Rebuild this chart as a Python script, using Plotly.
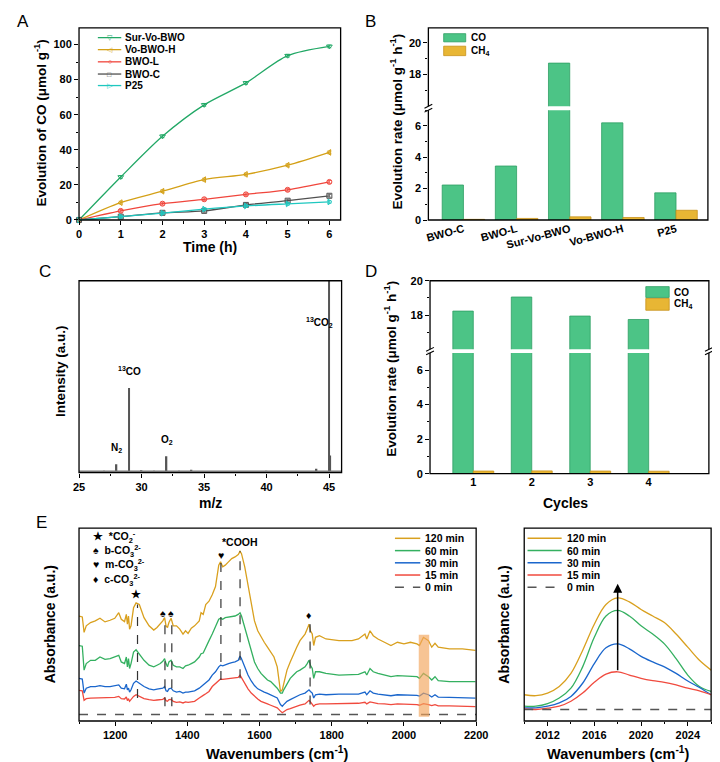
import plotly.graph_objects as go

W, H = 720, 762
FONT = "Liberation Sans"


def px(x):
    return x / W


def py(y):
    return 1 - y / H


# ---------------- Panel A data ----------------
time_h = [0, 1, 2, 3, 4, 5, 6]
co_sur_vo_bwo = [0, 24.5, 47.7, 65.6, 78.1, 93.6, 98.9]
co_vo_bwo_h = [0, 9.9, 16.4, 23.0, 26.0, 31.2, 38.5]
co_bwo_l = [0, 5.2, 9.3, 11.8, 14.6, 17.2, 21.7]
co_bwo_c = [0, 1.9, 4.1, 5.2, 8.6, 11.0, 13.8]
co_p25 = [0, 1.9, 3.9, 6.2, 8.0, 9.2, 10.3]
co_err = [0, 0.8, 0.8, 0.8, 0.8, 0.8, 0.8]
series_names_A = ["Sur-Vo-BWO", "Vo-BWO-H", "BWO-L", "BWO-C", "P25"]

# ---------------- Panel B data ----------------
catalysts = ["BWO-C", "BWO-L", "Sur-Vo-BWO", "Vo-BWO-H", "P25"]
rate_co = [2.23, 3.44, 18.72, 6.19, 1.73]
rate_ch4 = [0.04, 0.10, 0.20, 0.16, 0.62]

# ---------------- Panel C data ----------------
mz = [27, 28, 29, 30, 31, 32, 33, 34, 40, 44, 45, 45.1]
intensity = [0.01, 0.044, 0.441, 0.012, 0.008, 0.085, 0.01, 0.015, 0.008, 0.02, 1.05, 0.09]
mz_baseline = [25, 46]
baseline_level = [0.006, 0.006]
peak_labels_C = ["N<sub>2</sub>", "<sup>13</sup>CO", "O<sub>2</sub>", "<sup>13</sup>CO<sub>2</sub>"]
peak_mz_C = [28, 29, 32, 44.2]
peak_lab_y_C = [0.085, 0.49, 0.13, 0.74]

# ---------------- Panel D data ----------------
cycles = [1, 2, 3, 4]
cyc_co = [18.23, 19.05, 17.94, 17.74]
cyc_ch4 = [0.15, 0.16, 0.15, 0.14]

# ---------------- Panel E data (left) ----------------
wn_e = [1100, 1109, 1114, 1120, 1132, 1145, 1158, 1172, 1186, 1199,
        1210, 1217, 1226, 1231, 1234, 1237, 1240, 1244, 1251, 1258,
        1267, 1280, 1294, 1307, 1316, 1325, 1332, 1337, 1341, 1345,
        1349, 1355, 1361, 1370, 1379, 1388, 1395, 1402, 1411, 1420,
        1433, 1438, 1444, 1451, 1460, 1469, 1478, 1487, 1492, 1498,
        1505, 1514, 1523, 1532, 1541, 1546, 1550, 1559, 1568, 1577,
        1586, 1595, 1604, 1613, 1622, 1631, 1640, 1649, 1658, 1663,
        1667, 1676, 1685, 1694, 1703, 1712, 1726, 1732, 1737, 1741,
        1746, 1750, 1755, 1766, 1784, 1820, 1856, 1874, 1892, 1897,
        1906, 1915, 1928, 1946, 1964, 1982, 2000, 2018, 2036, 2043,
        2054, 2068, 2077, 2086, 2095, 2126, 2162, 2198]
abs_120 = [320, 317, 270, 290, 300, 305, 313, 302, 307, 313,
           330, 310, 303, 325, 295, 320, 280, 290, 345, 360,
           355, 315, 290, 277, 285, 295, 305, 315, 290, 285,
           300, 313, 290, 290, 280, 265, 275, 267, 283, 290,
           305, 330, 325, 355, 365, 385, 410, 475, 485, 470,
           475, 485, 495, 500, 507, 517, 510, 470, 415, 355,
           305, 275, 255, 240, 225, 210, 195, 165, 90, 95,
           115, 155, 180, 205, 225, 245, 265, 280, 295, 275,
           265, 230, 255, 260, 250, 245, 245, 250, 265, 250,
           275, 260, 250, 240, 230, 240, 235, 240, 235, 230,
           255, 245, 225, 237, 225, 220, 220, 215]
abs_60 = [230, 228, 155, 175, 185, 185, 195, 188, 190, 195,
          200, 180, 175, 195, 165, 190, 160, 175, 210, 217,
          205, 185, 170, 165, 170, 175, 182, 190, 175, 165,
          180, 185, 170, 165, 165, 160, 168, 170, 175, 180,
          195, 205, 207, 225, 245, 265, 290, 310, 313, 310,
          315, 317, 320, 320, 325, 330, 320, 285, 245, 210,
          180, 160, 145, 135, 125, 120, 110, 100, 85, 85,
          95, 115, 130, 140, 150, 155, 165, 175, 185, 170,
          160, 130, 150, 150, 145, 140, 140, 142, 150, 140,
          160, 150, 145, 140, 135, 138, 137, 138, 135, 130,
          145, 135, 125, 135, 123, 120, 120, 120]
abs_30 = [130, 128, 85, 100, 105, 105, 108, 105, 105, 107,
          110, 100, 98, 112, 95, 100, 88, 95, 115, 122,
          115, 105, 98, 95, 97, 98, 100, 105, 92, 90,
          98, 100, 92, 88, 90, 85, 88, 88, 90, 92,
          100, 105, 108, 115, 125, 140, 150, 165, 170, 168,
          172, 175, 178, 180, 185, 198, 190, 162, 140, 122,
          108, 98, 92, 88, 84, 80, 75, 70, 50, 45,
          50, 60, 65, 70, 75, 80, 85, 90, 95, 90,
          85, 70, 80, 82, 80, 82, 82, 82, 88, 80,
          92, 85, 82, 80, 77, 80, 80, 80, 78, 76,
          85, 80, 73, 80, 73, 72, 70, 70]
abs_15 = [93, 92, 63, 68, 70, 70, 72, 70, 70, 72,
          75, 68, 67, 73, 62, 68, 60, 65, 75, 80,
          75, 68, 65, 63, 64, 65, 66, 70, 62, 60,
          65, 66, 60, 57, 58, 55, 58, 57, 58, 60,
          70, 75, 78, 83, 90, 105, 115, 125, 128, 127,
          128, 129, 130, 130, 133, 140, 132, 115, 98, 85,
          75, 67, 60, 55, 52, 48, 45, 40, 30, 25,
          28, 35, 38, 42, 45, 48, 52, 57, 63, 58,
          52, 45, 50, 52, 52, 53, 53, 54, 57, 52,
          58, 55, 53, 52, 50, 52, 52, 52, 50, 48,
          53, 50, 47, 50, 46, 46, 45, 44]
wn_zero = [1100, 2200]
abs_zero = [20, 20]

# peak assignments (E left)
assign_wn = [1262, 1338, 1357, 1493, 1546, 1740]
assign_top = [355, 315, 313, 485, 517, 295]
assign_bottom = [70, 45, 45, 125, 130, 50]
assign_sym_wn = [1259, 1333, 1354, 1492, 1546, 1738]
assign_sym_y = [387, 330, 330, 507, 547, 323]
assign_sym = ["★", "♠", "♠", "♥", "*COOH", "♦"]
key_labels_E = ["★  *CO<sub>2</sub><sup>-</sup>", "♠  b-CO<sub>3</sub><sup>2-</sup>",
                "♥  m-CO<sub>3</sub><sup>2-</sup>", "♦  c-CO<sub>3</sub><sup>2-</sup>"]
band_wn = [2041, 2070]
band_abs = [13, 263]

# ---------------- Panel E data (right, zoom) ----------------
wn_z = [2010, 2011, 2012, 2013, 2014, 2015, 2016, 2017, 2018,
        2019, 2020, 2021, 2022, 2023, 2024, 2025, 2026]
z_120 = [80, 77, 85, 105, 145, 215, 295, 355, 375, 363, 340, 320, 300, 265, 225, 185, 155]
z_60 = [45, 45, 53, 70, 100, 165, 255, 320, 337, 320, 290, 265, 235, 190, 140, 105, 90]
z_30 = [40, 40, 45, 55, 75, 115, 175, 223, 235, 220, 197, 180, 165, 145, 122, 102, 80]
z_15 = [37, 35, 39, 45, 60, 85, 118, 143, 150, 140, 130, 123, 118, 110, 100, 92, 80]
wn_z_zero = [2010, 2026]
z_zero = [35, 35]
time_labels = ["120 min", "60 min", "30 min", "15 min", "0 min"]

# ---------------- styles ----------------
colA = ['#22a866', '#d4a017', '#f0463c', '#505050', '#1fc8c0']
symA = ['triangle-down-open', 'triangle-left-open', 'circle-open', 'square-open', 'triangle-right-open']
uniA = ['▽', '◁', '○', '□', '▷']
CO_COL, CO_EDGE = '#4cc486', '#2f9e63'
CH4_COL, CH4_EDGE = '#e8b634', '#c8921a'
colE = ['#d9a01e', '#34b060', '#1a66cc', '#f04a3e', '#555555']

fig = go.Figure()

# ---- A ----
for name, vals, c, s in zip(series_names_A, [co_sur_vo_bwo, co_vo_bwo_h, co_bwo_l, co_bwo_c, co_p25], colA, symA):
    fig.add_trace(go.Scatter(
        x=time_h, y=vals, name=name, mode='lines+markers',
        line=dict(color=c, width=1.3, shape='spline', smoothing=0.8),
        marker=dict(symbol=s, size=5, color=c, line=dict(width=1, color=c)),
        error_y=dict(type='data', array=co_err, color=c, thickness=0.8, width=2),
        xaxis='x', yaxis='y', showlegend=False, cliponaxis=False))

# ---- B ----
for xa, ya in [('x2', 'y2'), ('x3', 'y3')]:
    fig.add_trace(go.Bar(x=catalysts, y=rate_co, width=0.4, offset=-0.4, name='CO',
                         marker=dict(color=CO_COL, line=dict(color=CO_EDGE, width=0.8)),
                         xaxis=xa, yaxis=ya, showlegend=False))
    fig.add_trace(go.Bar(x=catalysts, y=rate_ch4, width=0.4, offset=0, name='CH4',
                         marker=dict(color=CH4_COL, line=dict(color=CH4_EDGE, width=0.8)),
                         xaxis=xa, yaxis=ya, showlegend=False))

# ---- C ----
fig.add_trace(go.Scatter(x=mz_baseline, y=baseline_level, mode='lines',
                         line=dict(color='#777', width=2), xaxis='x4', yaxis='y4', showlegend=False))
fig.add_trace(go.Bar(x=mz, y=intensity, width=0.12, marker=dict(color='#555', line=dict(width=0)),
                     xaxis='x4', yaxis='y4', showlegend=False))

# ---- D ----
for xa, ya in [('x5', 'y5'), ('x6', 'y6')]:
    fig.add_trace(go.Bar(x=cycles, y=cyc_co, width=0.35, offset=-0.35, name='CO',
                         marker=dict(color=CO_COL, line=dict(color=CO_EDGE, width=0.8)),
                         xaxis=xa, yaxis=ya, showlegend=False))
    fig.add_trace(go.Bar(x=cycles, y=cyc_ch4, width=0.35, offset=0, name='CH4',
                         marker=dict(color=CH4_COL, line=dict(color=CH4_EDGE, width=0.8)),
                         xaxis=xa, yaxis=ya, showlegend=False))

# ---- E left ----
for lab, vals, c in zip(time_labels[:4], [abs_120, abs_60, abs_30, abs_15], colE):
    fig.add_trace(go.Scatter(x=wn_e, y=vals, name=lab, mode='lines', line=dict(color=c, width=1.3),
                             xaxis='x7', yaxis='y7', showlegend=False))
fig.add_trace(go.Scatter(x=wn_zero, y=abs_zero, name='0 min', mode='lines',
                         line=dict(color=colE[4], width=1.5, dash='dash'),
                         xaxis='x7', yaxis='y7', showlegend=False))

# ---- E right ----
for lab, vals, c in zip(time_labels[:4], [z_120, z_60, z_30, z_15], colE):
    fig.add_trace(go.Scatter(x=wn_z, y=vals, name=lab, mode='lines',
                             line=dict(color=c, width=1.3, shape='spline'),
                             xaxis='x8', yaxis='y8', showlegend=False))
fig.add_trace(go.Scatter(x=wn_z_zero, y=z_zero, name='0 min', mode='lines',
                         line=dict(color=colE[4], width=1.5, dash='dash'),
                         xaxis='x8', yaxis='y8', showlegend=False))

# ---------------- axes ----------------
TF = dict(family=FONT, size=11, color='black', weight='bold')


def axis(domain, rng, anchor, **kw):
    d = dict(domain=domain, range=rng, anchor=anchor, showline=False, zeroline=False,
             showgrid=False, ticks='outside', ticklen=4, tickwidth=1.2, tickcolor='black',
             tickfont=TF)
    d.update(kw)
    return d


def minor(**kw):
    d = dict(ticks='outside', ticklen=2.5, tickwidth=1, tickcolor='black')
    d.update(kw)
    return d


A_X = [px(66.7), px(335)]
B_X = [px(425), px(711.7)]
C_X = [px(66.7), px(336)]
D_X = [px(426.7), px(712.7)]
EL_X = [px(66.7), px(474)]
ER_X = [px(523.3), px(715)]
E_Y = [py(718.3), py(522.3)]

fig.update_layout(
    xaxis=axis(A_X, [0, 6.27], 'y', tick0=0, dtick=1, minor=minor(dtick=0.5)),
    yaxis=axis([py(209.3), py(14)], [0, 109.5], 'x', tick0=0, dtick=20, minor=minor(dtick=10)),
    xaxis2=axis(B_X, [-0.66, 4.6], 'y2', type='category', ticks='', tickangle=-15),
    yaxis2=axis([py(209.3), py(97.7)], [0, 7], 'x2', tick0=0, dtick=2, minor=minor(dtick=1)),
    xaxis3=axis(B_X, [-0.66, 4.6], 'y3', type='category', ticks='', showticklabels=False),
    yaxis3=axis([py(93.7), py(14)], [16, 20.95], 'x3', tickmode='array', tickvals=[18, 20],
                minor=minor(tickmode='array', tickvals=[17, 19])),
    xaxis4=axis(C_X, [25, 46], 'y4', tick0=25, dtick=5, minor=minor(dtick=2.5)),
    yaxis4=axis([py(466), py(271)], [0, 1], 'x4', ticks='', showticklabels=False),
    xaxis5=axis(D_X, [0.26, 5.03], 'y5', tickmode='array', tickvals=cycles, ticks=''),
    yaxis5=axis([py(467), py(344.3)], [0, 7], 'x5', tick0=0, dtick=2, minor=minor(dtick=1)),
    xaxis6=axis(D_X, [0.26, 5.03], 'y6', ticks='', showticklabels=False),
    yaxis6=axis([py(340.7), py(271)], [16, 20], 'x6', tickmode='array', tickvals=[18, 20],
                minor=minor(tickmode='array', tickvals=[17, 19])),
    xaxis7=axis(EL_X, [1100, 2200], 'y7', tick0=1200, dtick=200, minor=minor(dtick=100)),
    yaxis7=axis(E_Y, [0, 588], 'x7', ticks='', showticklabels=False),
    xaxis8=axis(ER_X, [2010, 2026], 'y8', tick0=2012, dtick=4, minor=minor(dtick=2)),
    yaxis8=axis(E_Y, [0, 588], 'x8', ticks='', showticklabels=False),
)

# ---------------- shapes ----------------
shapes = []
frames = [(66.7, 14, 335, 209.3), (425, 14, 711.7, 209.3), (66.7, 271, 336, 466),
          (426.7, 271, 712.7, 467), (66.7, 522.3, 474, 718.3), (523.3, 522.3, 715, 718.3)]
for x0, y0, x1, y1 in frames:
    shapes.append(dict(type='rect', xref='paper', yref='paper', x0=px(x0), x1=px(x1),
                       y0=py(y1), y1=py(y0), line=dict(color='black', width=1.3), layer='above'))


def axis_break(X, g0, g1):
    out = [dict(type='rect', xref='paper', yref='paper', x0=px(X - 4), x1=px(X + 4),
                y0=py(g1), y1=py(g0), fillcolor='white', line=dict(width=0), layer='above')]
    for g in (g0, g1):
        out.append(dict(type='line', xref='paper', yref='paper', x0=px(X - 4), x1=px(X + 4),
                        y0=py(g + 2), y1=py(g - 2), line=dict(color='black', width=1.1), layer='above'))
    return out


shapes += axis_break(425, 93.7, 97.7)
shapes += axis_break(426.7, 340.7, 344.3)
shapes += axis_break(712.7, 340.7, 344.3)

# E left assignment dashed lines
for w, t, b in zip(assign_wn, assign_top, assign_bottom):
    shapes.append(dict(type='line', xref='x7', yref='y7', x0=w, x1=w, y0=b, y1=t,
                       line=dict(color='#333', width=1.2, dash='dash'), layer='above'))
# highlighted band
shapes.append(dict(type='rect', xref='x7', yref='y7', x0=band_wn[0], x1=band_wn[1],
                   y0=band_abs[0], y1=band_abs[1], fillcolor='rgba(243,165,90,0.65)',
                   line=dict(width=0), layer='above'))

annotations = []


def txt(x, y, s, size=11, bold=True, angle=0, xanchor='center', color='black'):
    return dict(x=px(x), y=py(y), xref='paper', yref='paper', text=s, showarrow=False,
                textangle=angle, xanchor=xanchor, yanchor='middle',
                font=dict(family=FONT, size=size, color=color, weight='bold' if bold else 'normal'))


# A legend
rowsA = [24, 36.2, 48.6, 61, 72.7]
for y, name, c, u in zip(rowsA, series_names_A, colA, uniA):
    shapes.append(dict(type='line', xref='paper', yref='paper', x0=px(86), x1=px(110), y0=py(y), y1=py(y),
                       line=dict(color=c, width=1.3)))
    annotations.append(txt(98, y, u, size=7, bold=False, color=c))
    annotations.append(txt(112, y, name, size=10, xanchor='left'))

# B legend
for (y0, y1), lab, c, e in zip([(20, 28.3), (32.7, 42.3)], ['CO', 'CH<sub>4</sub>'],
                               [CO_COL, CH4_COL], [CO_EDGE, CH4_EDGE]):
    shapes.append(dict(type='rect', xref='paper', yref='paper', x0=px(440.7), x1=px(463.3),
                       y0=py(y1), y1=py(y0), fillcolor=c, line=dict(color=e, width=0.8)))
    annotations.append(txt(467, (y0 + y1) / 2, lab, size=10, xanchor='left'))

# D legend
for (y0, y1), lab, c, e in zip([(277, 288), (289, 301)], ['CO', 'CH<sub>4</sub>'],
                               [CO_COL, CH4_COL], [CO_EDGE, CH4_EDGE]):
    shapes.append(dict(type='rect', xref='paper', yref='paper', x0=px(648), x1=px(672),
                       y0=py(y1), y1=py(y0), fillcolor=c, line=dict(color=e, width=0.8)))
    annotations.append(txt(675, (y0 + y1) / 2, lab, size=10, xanchor='left'))

# E legends
rowsE = [532.7, 545.2, 557.6, 570, 582.3]
for (lx0, lx1, tx) in [(390.7, 416.7, 419), (526.7, 561.7, 565)]:
    for y, lab, c in zip(rowsE, time_labels, colE):
        dash = 'dash' if lab == '0 min' else 'solid'
        shapes.append(dict(type='line', xref='paper', yref='paper', x0=px(lx0), x1=px(lx1),
                           y0=py(y), y1=py(y), line=dict(color=c, width=1.5, dash=dash)))
        annotations.append(txt(tx, y, lab, size=10.5, xanchor='left'))

# E key of assignments
for y, lab in zip([531, 545.5, 560, 575], key_labels_E):
    annotations.append(txt(79, y, lab, size=10.5, xanchor='left'))

# peak symbols
for w, yv, s in zip(assign_sym_wn, assign_sym_y, assign_sym):
    annotations.append(dict(x=w, y=yv, xref='x7', yref='y7', text=s, showarrow=False,
                            font=dict(family=FONT, size=10.5, color='black', weight='bold'),
                            yanchor='middle'))

# C peak labels
for m, yv, s in zip(peak_mz_C, peak_lab_y_C, peak_labels_C):
    annotations.append(dict(x=m, y=yv, xref='x4', yref='y4', text=s, showarrow=False,
                            font=dict(family=FONT, size=10, color='black', weight='bold'),
                            yanchor='bottom'))

# arrow E right
annotations.append(dict(x=2018, y=418, ax=2018, ay=150, xref='x8', yref='y8', axref='x8', ayref='y8',
                        text='', showarrow=True, arrowhead=2, arrowsize=1.2, arrowwidth=1.5,
                        arrowcolor='black'))

# axis titles
YT = "Evolution rate (μmol g<sup>-1</sup> h<sup>-1</sup>)"
annotations += [
    txt(27, 111, "Evolution of CO (μmol g<sup>-1</sup>)", size=13.5, angle=-90),
    txt(201, 237, "Time (h)", size=14),
    txt(392, 109, YT, size=13.5, angle=-90),
    txt(47, 363, "Intensity (a.u.)", size=13.5, angle=-90),
    txt(202, 497, "m/z", size=14),
    txt(386, 360, YT, size=13.5, angle=-90),
    txt(566, 497, "Cycles", size=14),
    txt(37, 620, "Absorbance (a.u.)", size=14, angle=-90),
    txt(270, 751, "Wavenumbers (cm<sup>-1</sup>)", size=14.5),
    txt(503, 620, "Absorbance (a.u.)", size=14, angle=-90),
    txt(619, 751, "Wavenumbers (cm<sup>-1</sup>)", size=14.5),
    txt(9, 8, "A", size=17, bold=False),
    txt(366, 8, "B", size=17, bold=False),
    txt(32, 262, "C", size=17, bold=False),
    txt(366, 262, "D", size=17, bold=False),
    txt(28, 517, "E", size=17, bold=False),
]

fig.update_layout(
    width=W, height=H, margin=dict(l=0, r=0, t=0, b=0),
    paper_bgcolor='white', plot_bgcolor='white', showlegend=False,
    barmode='overlay', shapes=shapes, annotations=annotations,
    font=dict(family=FONT, color='black'),
)

fig.write_html("out.html")
